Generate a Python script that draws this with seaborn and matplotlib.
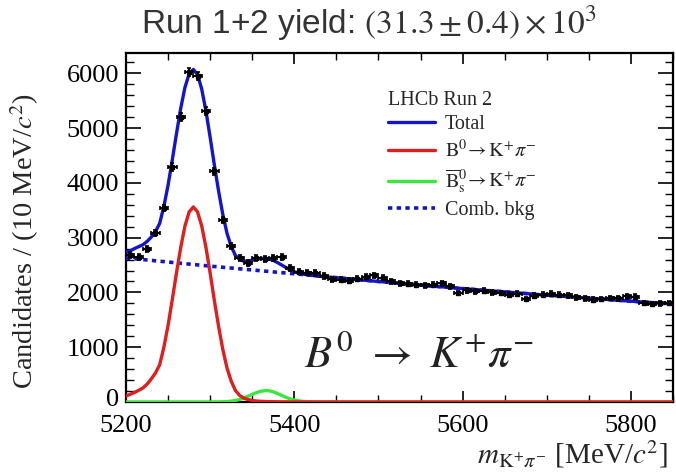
import numpy as np
import pandas as pd
import matplotlib
matplotlib.use("Agg")
import matplotlib.pyplot as plt
import matplotlib.transforms as mtransforms
import seaborn as sns

# ---------------- data ----------------
bin_centers = [5205, 5215, 5225, 5235, 5245, 5255, 5265, 5275, 5285, 5295,
               5305, 5315, 5325, 5335, 5345, 5355, 5365, 5375, 5385, 5395,
               5405, 5415, 5425, 5435, 5445, 5455, 5465, 5475, 5485, 5495,
               5505, 5515, 5525, 5535, 5545, 5555, 5565, 5575, 5585, 5595,
               5605, 5615, 5625, 5635, 5645, 5655, 5665, 5675, 5685, 5695,
               5705, 5715, 5725, 5735, 5745, 5755, 5765, 5775, 5785, 5795,
               5805, 5815, 5825, 5835, 5845]
counts = [2680, 2650, 2790, 3080, 3540, 4290, 5200, 6020, 5950, 5310,
          4215, 3320, 2850, 2630, 2540, 2630, 2610, 2630, 2650, 2445,
          2380, 2360, 2355, 2300, 2240, 2230, 2215, 2250, 2290, 2310,
          2270, 2200, 2170, 2160, 2140, 2130, 2140, 2170, 2110, 1990,
          2040, 2020, 2030, 2000, 1990, 1960, 1980, 1880, 1940, 1960,
          1980, 1960, 1950, 1910, 1890, 1870, 1880, 1900, 1890, 1930,
          1920, 1810, 1790, 1800, 1810]

curve_mass = [5200, 5205, 5210, 5215, 5220, 5225, 5230, 5235, 5240, 5245,
              5250, 5255, 5260, 5265, 5270, 5275, 5280, 5285, 5290, 5295,
              5300, 5305, 5310, 5315, 5320, 5325, 5330, 5335, 5340, 5345,
              5350, 5355, 5360, 5366, 5370, 5375, 5380, 5385, 5390, 5395,
              5400, 5410, 5420, 5430, 5450, 5500, 5550, 5600, 5650, 5700,
              5750, 5800, 5850]
total_fit = [2730, 2760, 2800, 2835, 2870, 2930, 3010, 3110, 3260, 3570,
             3960, 4420, 4900, 5360, 5740, 5990, 6070, 5975, 5710, 5310,
             4830, 4325, 3850, 3425, 3080, 2840, 2675, 2600, 2570, 2570,
             2590, 2610, 2620, 2620, 2610, 2585, 2545, 2500, 2455, 2410,
             2375, 2335, 2312, 2295, 2268, 2200, 2135, 2070, 2010, 1950,
             1895, 1840, 1790]
b0_signal = [110, 140, 175, 212, 255, 325, 420, 530, 680, 1000,
             1400, 1870, 2360, 2820, 3210, 3470, 3560, 3470, 3210, 2820,
             2350, 1850, 1380, 960, 620, 380, 210, 120, 70, 45,
             28, 18, 12, 8, 6, 5, 4, 3, 3, 2,
             2, 1, 1, 0, 0, 0, 0, 0, 0, 0,
             0, 0, 0]
bs_signal = [0, 0, 0, 0, 0, 0, 0, 0, 0, 0,
             0, 0, 0, 0, 0, 0, 0, 0, 0, 0,
             0, 1, 2, 4, 8, 15, 28, 46, 73, 105,
             140, 172, 196, 210, 205, 185, 155, 120, 86, 57,
             35, 11, 3, 1, 0, 0, 0, 0, 0, 0,
             0, 0, 0]
bkg_mass = [5200, 5300, 5400, 5500, 5600, 5700, 5800, 5850]
comb_bkg = [2630, 2480, 2340, 2200, 2070, 1950, 1840, 1790]

x_ticks = [5200, 5400, 5600, 5800]
y_ticks = [0, 1000, 2000, 3000, 4000, 5000, 6000]

# ---------------- style ----------------
sns.set_theme(style="ticks")
plt.rcParams["font.family"] = ["Liberation Serif", "DejaVu Serif"]
plt.rcParams["mathtext.fontset"] = "stix"

BLUE = "#1414c8"
RED = "#e01e1e"
GREEN = "#3ce63c"

fig = plt.figure(figsize=(6.76, 4.72), dpi=100)
ax = fig.add_axes([0.1864, 0.1483, 0.8092, 0.7394])

df_curves = pd.DataFrame({"m": curve_mass, "total": total_fit,
                          "b0": b0_signal, "bs": bs_signal})
df_bkg = pd.DataFrame({"m": bkg_mass, "bkg": comb_bkg})

sns.lineplot(data=df_curves, x="m", y="bs", color=GREEN, lw=2.4, ax=ax,
             label=r"$\overline{\mathrm{B}}{}^0_\mathrm{s}\!\rightarrow \mathrm{K}^{+}\pi^{-}$", zorder=3)
sns.lineplot(data=df_curves, x="m", y="b0", color=RED, lw=2.4, ax=ax,
             label=r"$\mathrm{B}^0\!\rightarrow \mathrm{K}^{+}\pi^{-}$", zorder=4)
sns.lineplot(data=df_bkg, x="m", y="bkg", color=BLUE, lw=2.6, ax=ax,
             linestyle=(0, (1.2, 1.2)), label="Comb. bkg", zorder=3)
sns.lineplot(data=df_curves, x="m", y="total", color=BLUE, lw=2.4, ax=ax,
             label="Total", zorder=5)

counts_arr = np.array(counts, dtype=float)
ax.errorbar(bin_centers, counts, yerr=np.sqrt(counts_arr), xerr=5,
            fmt="s", ms=3, color="black", ecolor="black", elinewidth=1.4,
            capsize=1.5, capthick=1.2, zorder=6)

ax.set_xlim(5200, 5850)
ax.set_ylim(0, 6370)
ax.set_xticks(x_ticks)
ax.set_yticks(y_ticks)
ax.set_xticks(np.arange(5200, 5851, 50), minor=True)
ax.set_yticks(np.arange(0, 6371, 200), minor=True)
ax.tick_params(axis="both", which="both", direction="in", top=True, right=True,
               labelsize=19, colors="black")
ax.tick_params(axis="x", which="major", length=8, width=1.2, pad=9)
ax.tick_params(axis="x", which="minor", length=5, width=1.0)
ax.tick_params(axis="y", which="major", length=11, width=1.2, pad=5)
ax.tick_params(axis="y", which="minor", length=5.5, width=1.0)
ax.set_yticklabels([str(v) for v in y_ticks])
zero_lab = ax.get_yticklabels()[0]
zero_lab.set_transform(zero_lab.get_transform() +
                       mtransforms.ScaledTranslation(0, 5 / 100, fig.dpi_scale_trans))
for s in ax.spines.values():
    s.set_color("black")
    s.set_linewidth(1.6)

ax.set_xlabel(r"$m_{\mathrm{K}^{+}\pi^{-}}$ [MeV/$c^2$]", fontsize=21, loc="right")
ax.xaxis.set_label_coords(0.99, -0.105)
ax.set_ylabel(r"Candidates / (10 MeV/$c^2$)", fontsize=20.5)
ax.yaxis.set_label_coords(-0.155, 0.46)

# legend
handles, labels = ax.get_legend_handles_labels()
order = [labels.index("Total"), 1, 0, labels.index("Comb. bkg")]
leg = ax.legend([handles[i] for i in order], [labels[i] for i in order],
                title="LHCb Run 2", loc="upper left",
                bbox_to_anchor=(0.465, 0.915), frameon=False, fontsize=14.5,
                title_fontsize=14.5, handlelength=2.3, handletextpad=0.5,
                labelspacing=0.28, borderaxespad=0)
leg._legend_box.align = "left"

ax.text(0.325, 0.10, r"$B^0\ \rightarrow\ K^{+}\pi^{-}$", transform=ax.transAxes,
        fontsize=32, color="#222222")

fig.text(0.545, 0.950, r"Run 1+2 yield: $(31.3 \pm 0.4) \times 10^3$",
         ha="center", va="center", fontsize=24, color="#333333",
         family=["Liberation Sans", "DejaVu Sans"])

fig.savefig("out.png", dpi=100)
